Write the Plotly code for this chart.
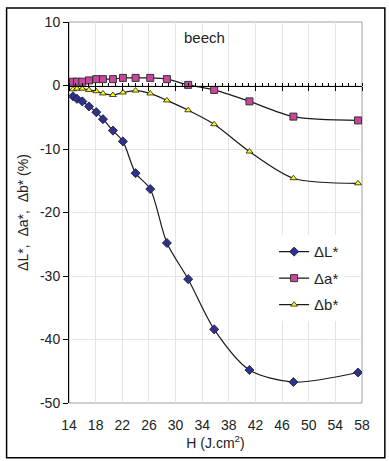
import plotly.graph_objects as go

H = [14.6, 15.2, 16.0, 17.0, 18.1, 19.1, 20.6, 22.1, 24.0, 26.2, 28.7, 31.9, 35.8, 41.1, 47.7, 57.4]
dL = [-1.7, -2.1, -2.5, -3.3, -4.2, -5.3, -7.1, -8.8, -13.8, -16.3, -24.8, -30.5, -38.4, -44.8, -46.7, -45.2]
da = [0.6, 0.6, 0.6, 0.8, 1.0, 1.0, 1.0, 1.2, 1.2, 1.2, 1.0, 0.1, -0.7, -2.5, -4.9, -5.5]
db = [-0.6, -0.5, -0.5, -0.7, -0.9, -1.25, -1.5, -1.1, -0.8, -1.25, -2.35, -3.9, -6.1, -10.4, -14.6, -15.4]

x_ticks = [14, 18, 22, 26, 30, 34, 38, 42, 46, 50, 54, 58]
y_ticks = [10, 0, -10, -20, -30, -40, -50]
y_labels = ["10", "0", "-10", "-20", "-30", "-40", "-50"]

FONT = "Liberation Sans, Arial, sans-serif"

fig = go.Figure()
fig.add_trace(go.Scatter(
    x=H, y=dL, name="ΔL*", mode="lines+markers", legendgroup="L",
    line=dict(color="#1a1a1a", width=1.2, shape="spline", smoothing=0.8),
    marker=dict(symbol="diamond", size=7, color="#2E3192", line=dict(color="#1a1a1a", width=0.8)),
))
fig.add_trace(go.Scatter(
    x=H, y=da, name="Δa*", mode="lines+markers", legendgroup="a",
    line=dict(color="#1a1a1a", width=1.2, shape="spline", smoothing=0.8),
    marker=dict(symbol="square", size=7, color="#C9479A", line=dict(color="#333333", width=1)),
))
fig.add_trace(go.Scatter(
    x=H, y=db, name="Δb*", mode="lines+markers", legendgroup="b",
    line=dict(color="#1a1a1a", width=1.2, shape="spline", smoothing=0.8),
    marker=dict(symbol="triangle-up", size=6, color="#FFFF00", line=dict(color="#1a1a1a", width=0.8)),
))
# invisible trace to activate axis at y=0
fig.add_trace(go.Scatter(x=[14, 58], y=[0, 0], xaxis="x2", mode="lines",
                         line=dict(width=0), showlegend=False, hoverinfo="skip"))

fig.update_layout(
    width=389, height=461,
    margin=dict(l=68.5, r=27, t=22, b=58, autoexpand=False),
    paper_bgcolor="white", plot_bgcolor="white",
    font=dict(family=FONT, size=14, color="#222222"),
    showlegend=True,
    legend=dict(x=0.70, y=0.44, xanchor="left", yanchor="top",
                bgcolor="white", font=dict(size=15, family=FONT, color="#222222"),
                traceorder="grouped", tracegroupgap=4),
    xaxis=dict(range=[14, 58], tickvals=x_ticks, showgrid=True, gridcolor="#E4E4E4", gridwidth=1,
               zeroline=False, showline=False, ticks="", tickfont=dict(size=14),
               ticklabelstandoff=12,
               title=dict(text="H (J.cm<sup>2</sup>)", font=dict(size=14), standoff=6)),
    xaxis2=dict(range=[14, 58], overlaying="x", anchor="free", position=0.832, side="bottom",
                showgrid=False, zeroline=False, showline=True, linecolor="black", linewidth=1,
                showticklabels=False, ticks="outside", ticklen=4, tickcolor="black",
                tickvals=x_ticks,
                minor=dict(dtick=1, tick0=14, ticks="inside", ticklen=3, tickcolor="black", showgrid=False)),
    yaxis=dict(range=[-50, 10], tickvals=y_ticks, ticktext=y_labels, showgrid=True, gridcolor="#E4E4E4",
               zeroline=False, showline=True, linecolor="black", linewidth=1,
               ticks="outside", ticklen=5, tickcolor="black", tickfont=dict(size=14),
               title=dict(text="ΔL*,  Δa*,  Δb* (%)", font=dict(size=14), standoff=8)),
    shapes=[
        dict(type="rect", xref="paper", yref="paper", x0=0, x1=1, y0=0, y1=1,
             line=dict(color="#A0A0A0", width=1), layer="below"),
        dict(type="rect", xref="paper", yref="paper", x0=-0.213, x1=1.078, y0=-0.144, y1=1.037,
             line=dict(color="black", width=1.5)),
    ],
    annotations=[dict(text="beech", x=34.4, y=7.5, xref="x", yref="y", showarrow=False,
                      font=dict(size=15, family=FONT, color="#222222"))],
)

fig.write_html("out.html", config={"displayModeBar": False},
               post_script="document.body.style.margin='0';")
